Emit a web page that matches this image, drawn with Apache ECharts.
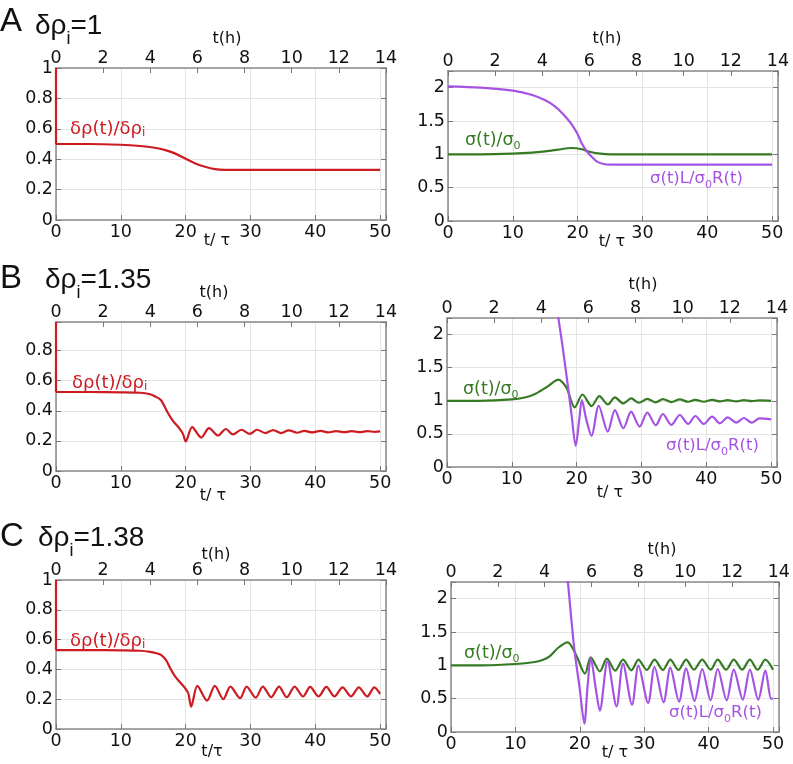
<!DOCTYPE html>
<html><head><meta charset="utf-8">
<script src="https://cdn.jsdelivr.net/npm/echarts@6/dist/echarts.min.js"></script>
<style>html,body{margin:0;padding:0;background:#fff}#c{width:793px;height:764px}</style>
</head><body><div id="c"></div>
<script>
// ---------------- data (t/τ, value) ----------------
const rhoA0 = [[0, 1], [0, 0.5]];
const rhoA = [[0,0.5],[5,0.5],[10,0.495],[13,0.487],[15,0.477],[17,0.458],[18.5,0.435],[20,0.403],[21.5,0.372],[23,0.35],[24.5,0.335],[26,0.33],[30,0.33],[50,0.33]];
const sigA = [[0,1],[5,1],[10,1.01],[13,1.025],[15,1.045],[17,1.07],[19,1.095],[20.5,1.08],[22,1.035],[23.5,1.01],[25,1.0],[30,1.0],[50,1.0]];
const ratA = [[0,2.02],[5,2.0],[10,1.955],[13,1.89],[15,1.81],[16.5,1.72],[17.7,1.61],[19,1.46],[20,1.3],[20.6,1.17],[21.3,1.06],[22,0.98],[23,0.89],[24,0.855],[25,0.846],[30,0.845],[50,0.845]];

const rhoB0 = [[0, 0.99], [0, 0.525]];
const rhoB = [[0,0.525],[5,0.525],[10,0.523],[13,0.52],[14.5,0.51],[15.3,0.495],[16.2,0.47],[17.2,0.39],[18,0.335],[19,0.285],[19.6,0.245],[20,0.196],[21,0.292],[22.4,0.222],[23.6,0.285],[25,0.236],[26.2,0.279],[27.3,0.243],[28.6,0.274],[29.9,0.247],[31,0.274],[32.3,0.252],[33.5,0.272],[34.7,0.252],[35.9,0.27],[37.2,0.254],[38.3,0.267],[39.5,0.256],[40.8,0.267],[42,0.256],[43.2,0.265],[44.5,0.258],[45.6,0.265],[46.9,0.258],[48,0.265],[49.2,0.26],[50,0.263]];
const sigB = [[0,1],[5,1],[10,1.02],[12,1.05],[13.5,1.1],[14.6,1.16],[15.6,1.22],[16.5,1.29],[17.2,1.32],[17.8,1.28],[18.5,1.185],[19.7,0.9],[20.9,1.095],[22.3,0.92],[23.5,1.07],[24.8,0.945],[25.9,1.05],[27.2,0.96],[28.4,1.035],[29.6,0.97],[30.9,1.03],[32.2,0.975],[33.3,1.025],[34.6,0.98],[35.9,1.02],[37.2,0.985],[38.3,1.015],[39.6,0.985],[40.9,1.015],[42.1,0.99],[43.3,1.01],[44.6,0.99],[45.8,1.01],[47,0.995],[48.2,1.005],[50,1.0]];
const ratB = [[15.5,3.4],[16.3,2.85],[17.1,2.3],[17.8,1.84],[18.5,1.33],[19.2,0.8],[19.85,0.32],[20.4,0.72],[20.8,1.01],[21.5,0.71],[22.3,0.47],[23.4,0.925],[24.8,0.535],[25.9,0.86],[27.2,0.585],[28.4,0.835],[29.7,0.61],[30.9,0.82],[32.2,0.63],[33.3,0.8],[34.6,0.635],[35.9,0.785],[37.2,0.65],[38.3,0.77],[39.6,0.65],[40.9,0.76],[42.1,0.66],[43.3,0.75],[44.6,0.67],[45.8,0.74],[47,0.67],[48.2,0.735],[50,0.72]];

const rhoC0 = [[0, 1], [0, 0.53]];
const rhoC = [[0,0.53],[5,0.53],[10,0.528],[13,0.525],[14.5,0.518],[15.5,0.508],[16.2,0.497],[17,0.46],[17.6,0.41],[18.2,0.364],[19,0.32],[19.8,0.28],[20.4,0.24],[20.85,0.15],[21.8,0.29],[23.3,0.19],[24.5,0.29],[25.8,0.2],[26.9,0.285],[28.4,0.207],[29.4,0.285],[30.8,0.21],[31.9,0.285],[33.2,0.213],[34.4,0.285],[35.6,0.213],[36.8,0.285],[38.1,0.218],[39.2,0.283],[40.5,0.218],[41.7,0.283],[42.95,0.218],[44.2,0.28],[45.5,0.218],[46.7,0.28],[48,0.218],[49.1,0.28],[50,0.236]];
const sigC = [[0,1],[5,1],[10,1.02],[13,1.05],[14.2,1.08],[15.3,1.135],[16.6,1.26],[18.1,1.345],[19.4,1.16],[20.8,0.875],[21.7,1.12],[23.1,0.91],[24.2,1.1],[25.5,0.92],[26.7,1.085],[28,0.925],[29.1,1.085],[30.4,0.93],[31.6,1.085],[32.9,0.93],[34.05,1.085],[35.3,0.93],[36.5,1.085],[37.7,0.935],[39,1.085],[40.3,0.935],[41.4,1.085],[42.7,0.935],[43.9,1.085],[45.2,0.935],[46.4,1.085],[47.6,0.935],[48.8,1.085],[50,0.935]];
const ratC = [[16.8,3.4],[17.5,2.85],[18.1,2.3],[19.1,1.285],[20,0.635],[20.7,0.125],[21.2,0.685],[21.7,1.11],[22.5,0.635],[23.1,0.32],[24.3,1.06],[25.7,0.385],[26.7,1.025],[28.1,0.41],[29.1,0.995],[30.6,0.435],[31.6,0.975],[33,0.445],[34.05,0.965],[35.4,0.455],[36.5,0.955],[37.8,0.465],[39,0.945],[40.3,0.475],[41.4,0.945],[42.8,0.475],[43.9,0.935],[45.3,0.485],[46.4,0.935],[47.7,0.485],[48.8,0.925],[49.7,0.5],[50,0.5]];

// axis ranges
const tauMax = 50.9, hourMax = 14, hourStep = 2, tauStep = 10;
const yMaxes = [1, 2.25, 0.99, 2.25, 1, 2.25];
const ySteps = [0.2, 0.5, 0.2, 0.5, 0.2, 0.5];

// ---------------- styling / layout ----------------
const RED = '#cc1c22', GREEN = '#367a24', PURPLE = '#a553e4';
const FRAME = '#8a8a8a', GRIDC = '#e4e4e4', FONT = 'DejaVu Sans';
const grids = [
  {left: 56, top: 68, width: 330, height: 152},
  {left: 448, top: 71, width: 330, height: 150},
  {left: 56, top: 322, width: 330, height: 149},
  {left: 447, top: 318, width: 330, height: 149},
  {left: 56, top: 580, width: 330, height: 149},
  {left: 451, top: 582, width: 329, height: 150}
];
const panelSeries = [
  [[rhoA0, RED, false], [rhoA, RED, 0.3]],
  [[sigA, GREEN, 0.3], [ratA, PURPLE, 0.3]],
  [[rhoB0, RED, false], [rhoB, RED, 0.3]],
  [[sigB, GREEN, 0.3], [ratB, PURPLE, 0.3]],
  [[rhoC0, RED, false], [rhoC, RED, 0.3]],
  [[sigC, GREEN, 0.3], [ratC, PURPLE, 0.3]]
];

function isMult(v, s) { const r = v / s; return Math.abs(r - Math.round(r)) < 1e-6; }
const lbl = {fontFamily: FONT, fontSize: 17.5, color: '#111'};
const axLine = {show: true, onZero: false, lineStyle: {color: FRAME, width: 1.5}};
const tick = {show: true, inside: true, length: 5, lineStyle: {color: '#777', width: 1}};

const xAxis = [], yAxis = [], series = [];
grids.forEach((g, i) => {
  xAxis.push({type: 'value', gridIndex: i, position: 'bottom', min: 0, max: tauMax, interval: tauStep,
    axisLine: axLine, axisTick: tick,
    axisLabel: Object.assign({margin: 3, formatter: v => isMult(v, tauStep) ? String(v) : ''}, lbl),
    splitLine: {show: true, lineStyle: {color: GRIDC, width: 1}}});
  xAxis.push({type: 'value', gridIndex: i, position: 'top', min: 0, max: hourMax, interval: hourStep,
    axisLine: axLine, axisTick: tick,
    axisLabel: Object.assign({margin: 1, formatter: v => isMult(v, hourStep) ? String(v) : ''}, lbl),
    splitLine: {show: false}});
  const st = ySteps[i];
  yAxis.push({type: 'value', gridIndex: i, position: 'left', min: 0, max: yMaxes[i], interval: st,
    axisLine: axLine, axisTick: tick,
    axisLabel: Object.assign({margin: 3, formatter: v => isMult(v, st) ? String(+v.toFixed(2)) : ''}, lbl),
    splitLine: {show: true, lineStyle: {color: GRIDC, width: 1}}});
  yAxis.push({type: 'value', gridIndex: i, position: 'right', min: 0, max: yMaxes[i], interval: st,
    axisLine: axLine, axisTick: tick, axisLabel: {show: false}, splitLine: {show: false}});
  panelSeries[i].forEach(([d, c, sm]) => {
    series.push({type: 'line', xAxisIndex: 2 * i, yAxisIndex: 2 * i, data: d, showSymbol: false, symbol: 'none',
      smooth: sm, clip: true, silent: true, lineStyle: {color: c, width: 2.2}});
  });
});

// ---------------- texts ----------------
function plain(x, y, text, size, fam, align) {
  return {type: 'text', x: x, y: y, silent: true, z: 100,
    style: {text: text, fontSize: size, fontFamily: fam || FONT, fill: '#111', align: align || 'center', verticalAlign: 'middle'}};
}
function richT(x, y, text, color, mSize, mLH, sSize, fam) {
  return {type: 'text', x: x, y: y, silent: true, z: 100,
    style: {text: text, align: 'left', verticalAlign: 'middle',
      rich: {
        m: {fontSize: mSize, lineHeight: mLH, fontFamily: fam || FONT, fill: color},
        s: {fontSize: sSize, lineHeight: sSize, fontFamily: fam || FONT, fill: color, verticalAlign: 'bottom'}
      }}};
}
const graphic = [
  plain(0, 22, 'A', 33, 'Liberation Sans', 'left'),
  plain(0, 279, 'B', 33, 'Liberation Sans', 'left'),
  plain(0, 537, 'C', 33, 'Liberation Sans', 'left'),
  richT(35, 26, '{m|δρ}{s|i}{m|=1}', '#111', 28, 44, 18, 'Liberation Sans'),
  richT(45, 280, '{m|δρ}{s|i}{m|=1.35}', '#111', 28, 44, 18, 'Liberation Sans'),
  richT(38, 538, '{m|δρ}{s|i}{m|=1.38}', '#111', 28, 44, 18, 'Liberation Sans'),
  plain(227, 39, 't(h)', 16), plain(607, 39, 't(h)', 16),
  plain(214, 293, 't(h)', 16), plain(643, 285, 't(h)', 16),
  plain(216, 555, 't(h)', 16), plain(662, 550, 't(h)', 16),
  plain(217, 241, 't/ τ', 16), plain(612, 242, 't/ τ', 16),
  plain(213, 496, 't/ τ', 16), plain(610, 493, 't/ τ', 16),
  plain(212, 752, 't/τ', 16), plain(615, 753, 't/ τ', 16),
  richT(70, 129, '{m|δρ(t)/δρ}{s|i}', RED, 18, 20, 12),
  richT(72, 383, '{m|δρ(t)/δρ}{s|i}', RED, 18, 20, 12),
  richT(70, 641, '{m|δρ(t)/δρ}{s|i}', RED, 18, 20, 12),
  richT(465, 140, '{m|σ(t)/σ}{s|0}', GREEN, 17.5, 24, 11),
  richT(463, 389, '{m|σ(t)/σ}{s|0}', GREEN, 17.5, 24, 11),
  richT(464, 653, '{m|σ(t)/σ}{s|0}', GREEN, 17.5, 24, 11),
  richT(650, 179, '{m|σ(t)L/σ}{s|0}{m|R(t)}', PURPLE, 16.5, 24, 11),
  richT(666, 446, '{m|σ(t)L/σ}{s|0}{m|R(t)}', PURPLE, 16.5, 24, 11),
  richT(669, 713, '{m|σ(t)L/σ}{s|0}{m|R(t)}', PURPLE, 16.5, 24, 11)
];

const chart = echarts.init(document.getElementById('c'), null, {renderer: 'canvas'});
chart.setOption({animation: false, backgroundColor: '#fff', grid: grids, xAxis: xAxis, yAxis: yAxis, series: series, graphic: graphic});
</script></body></html>
